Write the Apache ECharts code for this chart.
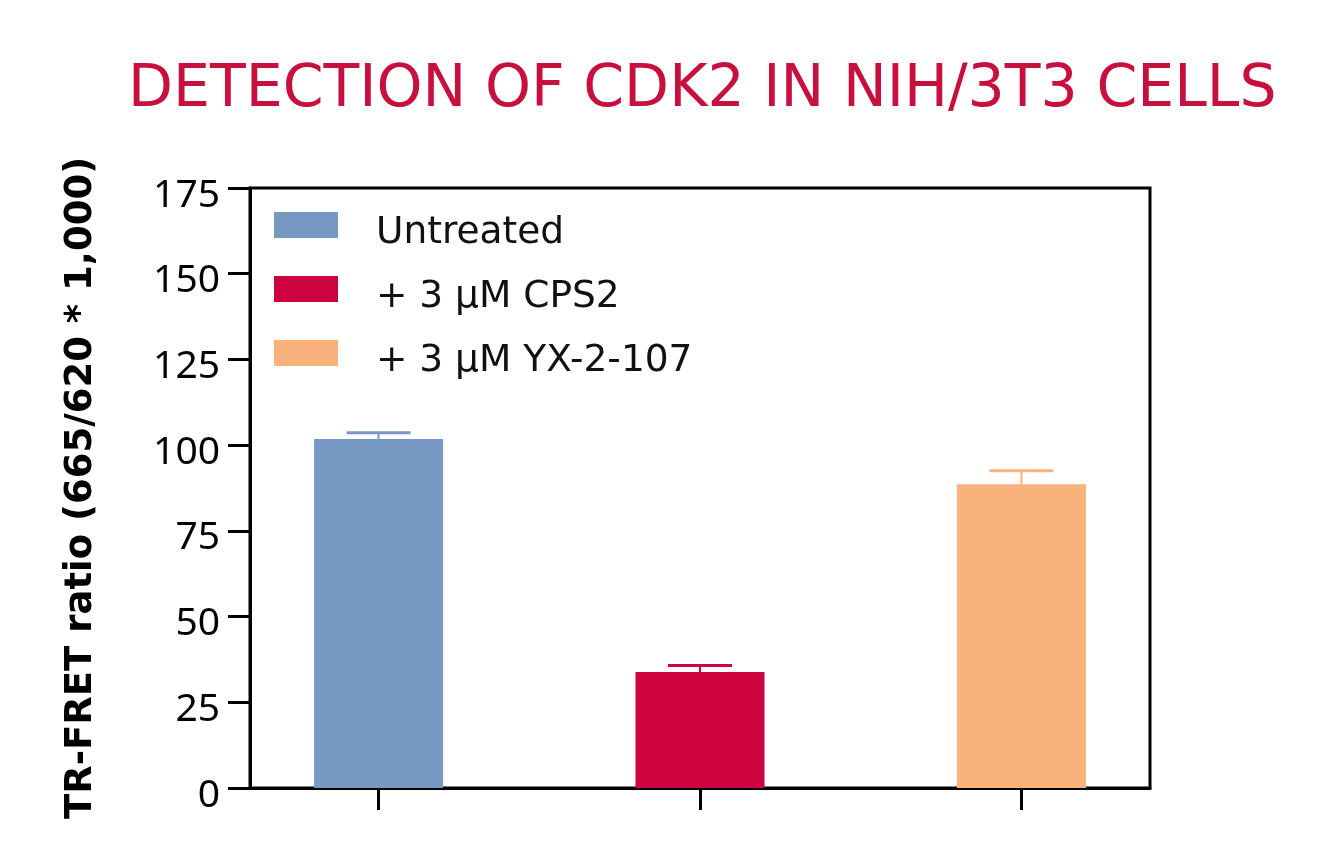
<!DOCTYPE html>
<html>
<head>
<meta charset="utf-8">
<script src="https://cdn.jsdelivr.net/npm/echarts@6/dist/echarts.min.js"></script>
<style>
  html, body { margin: 0; padding: 0; background: #fff; }
  #chart { width: 1317px; height: 862px; }
</style>
</head>
<body>
<div id="chart"></div>
<script>
// data
const groups = ["Untreated", "+ 3 μM CPS2", "+ 3 μM YX-2-107"];
const means = [101.8, 33.8, 88.6];
const errors = [1.8, 1.9, 3.9];
const colors = ["#7799c4", "#cc033e", "#f9b27b"];
const yTicks = [0, 25, 50, 75, 100, 125, 150, 175];

const wideFont = "DejaVu Sans";
const numFont = "Noto Sans";

let chart = echarts.init(document.getElementById("chart"));

let barSeries = groups.map(function (name, i) {
  return {
    name: name,
    type: "bar",
    data: [[i, means[i]]],
    barWidth: 129,
    barGap: "-100%",
    itemStyle: { color: colors[i] },
    z: 3,
  };
});

let errSeries = {
  name: "sem",
  type: "custom",
  data: means.map(function (m, i) {
    return [i, m, m + errors[i]];
  }),
  renderItem: function (params, api) {
    let i = params.dataIndex;
    let top = api.coord([api.value(0), api.value(2)]);
    let base = api.coord([api.value(0), api.value(1)]);
    let half = 32;
    return {
      type: "group",
      children: [
        {
          type: "line",
          shape: { x1: top[0], y1: top[1], x2: base[0], y2: base[1] },
          style: { stroke: colors[i], lineWidth: 2 },
        },
        {
          type: "line",
          shape: { x1: top[0] - half, y1: top[1], x2: top[0] + half, y2: top[1] },
          style: { stroke: colors[i], lineWidth: 3 },
        },
      ],
    };
  },
  z: 2,
};

let option = {
  animation: false,
  title: {
    text: "DETECTION OF CDK2 IN NIH/3T3 CELLS",
    left: 123,
    top: 56,
    textStyle: {
      color: "#c8103f",
      fontFamily: wideFont,
      fontWeight: "normal",
      fontSize: 58.5,
    },
  },
  legend: {
    data: groups,
    orient: "vertical",
    left: 274,
    top: 212,
    padding: 0,
    itemWidth: 64,
    itemHeight: 26,
    itemGap: 24,
    icon: "rect",
    formatter: "{t|{name}}",
    textStyle: {
      fontFamily: wideFont,
      fontSize: 37.5,
      color: "#111",
      rich: {
        t: {
          fontFamily: wideFont,
          fontSize: 37.5,
          color: "#111",
          padding: [16, 0, 0, 33],
        },
      },
    },
  },
  grid: {
    left: 250,
    right: 167,
    top: 188,
    bottom: 74,
    show: true,
    borderColor: "#000",
    borderWidth: 3,
  },
  xAxis: {
    type: "value",
    min: -0.4,
    max: 2.4,
    splitLine: { show: false },
    axisLine: { show: true, onZero: false, lineStyle: { color: "#000", width: 3 } },
    axisTick: {
      show: true,
      inside: false,
      length: 22,
      customValues: [0, 1, 2],
      lineStyle: { color: "#000", width: 3 },
    },
    axisLabel: { show: false },
  },
  yAxis: {
    type: "value",
    min: 0,
    max: 175,
    interval: 25,
    name: "TR-FRET ratio (665/620 * 1,000)",
    nameLocation: "middle",
    nameRotate: 90,
    nameGap: 150,
    nameTextStyle: {
      fontFamily: wideFont,
      fontWeight: "bold",
      fontSize: 37,
      color: "#000",
    },
    splitLine: { show: false },
    axisLine: { show: true, onZero: false, lineStyle: { color: "#000", width: 3 } },
    axisTick: {
      show: true,
      length: 22,
      lineStyle: { color: "#000", width: 3 },
    },
    axisLabel: {
      margin: 30,
      customValues: yTicks,
      formatter: "{n|{value}}",
      rich: {
        n: {
          fontFamily: numFont,
          fontSize: 39,
          color: "#000",
          padding: [15, 0, 0, 0],
        },
      },
    },
  },
  series: barSeries.concat([errSeries]),
};

chart.setOption(option);
</script>
</body>
</html>
